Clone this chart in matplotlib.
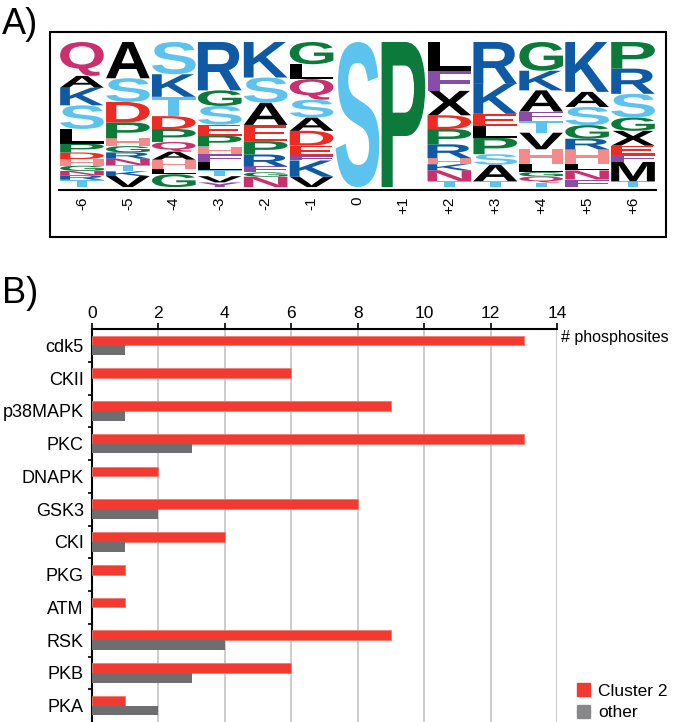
import numpy as np
import matplotlib
matplotlib.use('Agg')
from matplotlib import pyplot as plt
from matplotlib.textpath import TextPath
from matplotlib.patches import PathPatch, Rectangle, Patch
from matplotlib.font_manager import FontProperties
import matplotlib.transforms as mtransforms

plt.rcParams['font.family'] = ['Liberation Sans', 'DejaVu Sans']

# ---- panel A: residue frequencies per position (read top -> bottom) ----
positions = ['-6', '-5', '-4', '-3', '-2', '-1', '0', '+1', '+2', '+3', '+4', '+5', '+6']
col_m6 = [('Q', .23), ('A', .08), ('K', .12), ('S', .16), ('L', .10), ('P', .06), ('D', .045),
          ('H', .045), ('G', .035), ('N', .03), ('R', .03), ('T', .05)]
col_m5 = [('A', .23), ('S', .15), ('D', .13), ('P', .10), ('H', .05), ('G', .04), ('R', .04),
          ('N', .04), ('T', .04), ('K', .03), ('V', .07)]
col_m4 = [('S', .20), ('K', .14), ('T', .12), ('D', .08), ('P', .08), ('Q', .06), ('A', .05),
          ('H', .06), ('L', .03), ('G', .08)]
col_m3 = [('R', .31), ('G', .10), ('S', .12), ('E', .07), ('P', .07), ('H', .05), ('F', .05),
          ('L', .05), ('T', .04), ('V', .04), ('Y', .03)]
col_m2 = [('K', .24), ('S', .17), ('A', .15), ('E', .11), ('P', .09), ('R', .08), ('F', .04),
          ('G', .03), ('N', .07)]
col_m1 = [('G', .15), ('L', .10), ('Q', .14), ('S', .12), ('A', .09), ('D', .10), ('E', .07),
          ('F', .03), ('K', .11), ('V', .07)]
col_0 = [('S', 1.0)]
col_p1 = [('P', 1.0)]
col_p2 = [('L', .19), ('F', .13), ('X', .16), ('D', .09), ('P', .10), ('R', .09), ('H', .04),
          ('K', .04), ('N', .07), ('T', .04)]
col_p3 = [('R', .28), ('K', .20), ('E', .08), ('L', .08), ('P', .11), ('S', .07), ('A', .11), ('T', .04)]
col_p4 = [('G', .19), ('K', .13), ('A', .14), ('F', .06), ('T', .08), ('V', .11), ('H', .10),
          ('L', .05), ('G', .03), ('Q', .04), ('T', .03)]
col_p5 = [('K', .33), ('A', .10), ('S', .12), ('G', .09), ('R', .07), ('H', .10), ('L', .04),
          ('N', .06), ('F', .05)]
col_p6 = [('P', .18), ('R', .17), ('S', .16), ('G', .09), ('X', .10), ('E', .06), ('F', .05),
          ('M', .13), ('T', .04)]
logo_columns = [col_m6, col_m5, col_m4, col_m3, col_m2, col_m1, col_0, col_p1,
                col_p2, col_p3, col_p4, col_p5, col_p6]

letter_colors = {
    'A': '#000000', 'L': '#000000', 'V': '#000000', 'X': '#000000', 'M': '#000000', 'I': '#000000',
    'S': '#5cc3ee', 'T': '#5cc3ee',
    'K': '#0f5aa5', 'R': '#0f5aa5',
    'G': '#0b7a3b', 'P': '#0b7a3b',
    'D': '#ee2a24', 'E': '#ee2a24',
    'H': '#f48a8a',
    'Q': '#c9306d', 'N': '#c9306d',
    'F': '#8a4ba9', 'Y': '#8a4ba9',
}

# ---- panel B: kinase motif counts ----
kinases = ['cdk5', 'CKII', 'p38MAPK', 'PKC', 'DNAPK', 'GSK3', 'CKI', 'PKG', 'ATM', 'RSK', 'PKB', 'PKA']
cluster2 = [13, 6, 9, 13, 2, 8, 4, 1, 1, 9, 6, 1]
other = [1, 0, 1, 3, 0, 2, 1, 0, 0, 4, 3, 2]

W, H = 676, 722
fig = plt.figure(figsize=(W / 100, H / 100), dpi=100)

fp = FontProperties(family='Liberation Sans', weight='bold')


def draw_letter(ax, letter, x, y, w, h, color):
    tp = TextPath((0, 0), letter, size=1, prop=fp)
    bb = tp.get_extents()
    t = mtransforms.Affine2D().translate(-bb.x0, -bb.y0).scale(w / bb.width, h / bb.height).translate(x, y)
    ax.add_patch(PathPatch(t.transform_path(tp), facecolor=color, lw=0))


# panel A
fig.add_artist(Rectangle((50 / W, 1 - 237 / H), 616 / W, 205 / H, transform=fig.transFigure,
                         fill=False, lw=1.5, ec='black'))
ax1 = fig.add_axes([59 / W, 1 - 190 / H, 597 / W, 148 / H])
lw_letter = 0.95
for i, col in enumerate(logo_columns):
    total = sum(f for _, f in col)
    y = 0.0
    for letter, f in reversed(col):
        h = f / total
        draw_letter(ax1, letter, i - lw_letter / 2, y, lw_letter, h, letter_colors[letter])
        y += h
ax1.set_xlim(-0.5, len(positions) - 0.5)
ax1.set_ylim(-0.02, 1.0)
ax1.set_xticks(range(len(positions)))
ax1.set_xticklabels(positions, rotation=90, fontsize=11)
ax1.tick_params(axis='x', length=0, pad=5)
ax1.set_yticks([])
for s in ['top', 'left', 'right']:
    ax1.spines[s].set_visible(False)
ax1.spines['bottom'].set_linewidth(1.5)

fig.text(2 / W, 1 - 34 / H, 'A)', fontsize=26, ha='left', va='baseline')
fig.text(2 / W, 1 - 303 / H, 'B)', fontsize=26, ha='left', va='baseline')

# panel B
ax2 = fig.add_axes([92 / W, 0, 465 / W, 393 / H])
yy = np.arange(len(kinases))
bh = 0.3
ax2.barh(yy - bh / 2, cluster2, height=bh, color='#f23a30', edgecolor='#f57a70', lw=0.6,
         label='Cluster 2', zorder=3)
ax2.barh(yy + bh / 2, other, height=bh, color='#6e6e70', lw=0, label='other', zorder=3)
ax2.set_xlim(0, 14)
ax2.set_ylim(len(kinases) - 0.5, -0.5)
ax2.set_xticks(np.arange(0, 15, 2))
for v in np.arange(2, 15, 2):
    ax2.axvline(v, color='#c4c4c4', lw=1.2, zorder=1)
ax2.xaxis.tick_top()
ax2.tick_params(axis='x', direction='out', length=4, width=1.2, pad=1.5, labelsize=12.5)
ax2.set_yticks(yy)
ax2.set_yticklabels(kinases, fontsize=13)
ax2.tick_params(axis='y', length=0, pad=6)
ax2.set_yticks(np.arange(0.5, len(kinases) - 1, 1), minor=True)
ax2.tick_params(axis='y', which='minor', direction='out', length=3, width=1.2)
ax2.spines['right'].set_visible(False)
ax2.spines['bottom'].set_visible(False)
ax2.spines['top'].set_linewidth(1.5)
ax2.spines['left'].set_linewidth(1.5)
ax2.text(14.12, -0.25, '# phosphosites', fontsize=11.5, ha='left', va='center', clip_on=False)

handles = [Patch(color='#f23a30', label='Cluster 2'), Patch(color='#88888a', label='other')]
fig.legend(handles=handles, loc='lower left', bbox_to_anchor=(575 / W, 0), bbox_transform=fig.transFigure,
           frameon=False, fontsize=12.5, handlelength=0.75, handleheight=0.75, handletextpad=0.5,
           labelspacing=0.35, borderaxespad=0, borderpad=0.1)

fig.savefig('out.png', dpi=100)
